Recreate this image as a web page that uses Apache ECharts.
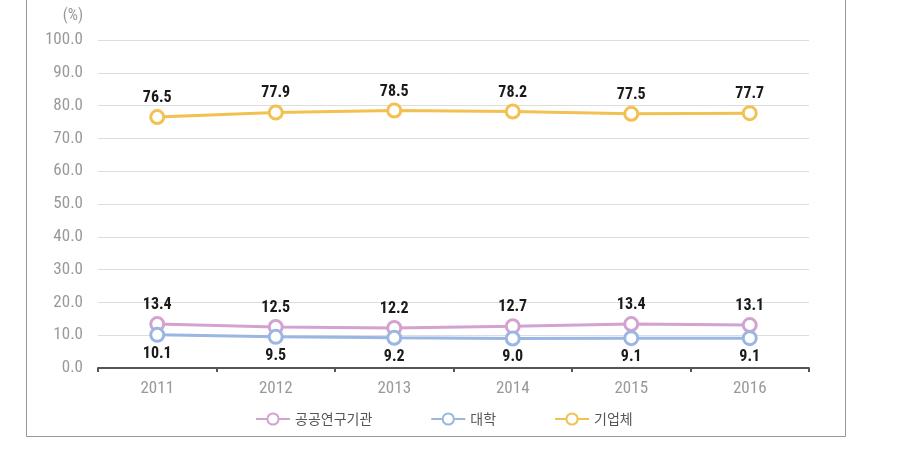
<!DOCTYPE html>
<html><head><meta charset="utf-8">
<script src="https://cdn.jsdelivr.net/npm/echarts@6/dist/echarts.min.js"></script>
<style>html,body{margin:0;padding:0;background:#fff}#c{width:908px;height:449px}</style>
</head><body><div id="c"></div>
<script>
var years = ['2011','2012','2013','2014','2015','2016'];
var publicInst = [13.4, 12.5, 12.2, 12.7, 13.4, 13.1];
var university = [10.1, 9.5, 9.2, 9.0, 9.1, 9.1];
var company = [76.5, 77.9, 78.5, 78.2, 77.5, 77.7];
var names = ['공공연구기관', '대학', '기업체'];
var colors = ['#D3A2D1', '#9AB6E3', '#F3C052'];
var narrow = '"Liberation Sans Narrow", "Roboto Condensed", Roboto, sans-serif';

var chart = echarts.init(document.getElementById('c'));
function mk(name, data, color, pos) {
  return {
    name: name, type: 'line', data: data,
    symbol: 'circle', symbolSize: 13,
    lineStyle: { color: color, width: 3 },
    itemStyle: { color: '#fff', borderColor: color, borderWidth: 3 },
    label: { show: true, position: pos, distance: 3, color: '#1a1a1a', fontSize: 16, fontWeight: 'bold',
      fontFamily: narrow, formatter: function(p){ return p.value.toFixed(1); } },
    emphasis: { disabled: true }
  };
}
chart.setOption({
  animation: false,
  grid: { left: 98, right: 99, top: 40, bottom: 81 },
  graphic: [{ type: 'rect', shape: { x: 26.5, y: -1, width: 819, height: 437.5 },
    style: { fill: 'none', stroke: '#999', lineWidth: 1 }, z: -1 }],
  legend: {
    data: names, bottom: 18, left: 250, itemGap: 58, itemWidth: 34, itemHeight: 14,
    textStyle: { color: '#555', fontSize: 14, fontFamily: 'Noto Sans CJK KR' }
  },
  xAxis: {
    type: 'category', data: years, boundaryGap: true,
    axisLine: { lineStyle: { color: '#555', width: 2 } },
    axisTick: { show: true, length: 4, lineStyle: { color: '#555', width: 2 } },
    axisLabel: { color: '#999', fontSize: 17, fontFamily: narrow, margin: 12 }
  },
  yAxis: {
    type: 'value', min: 0, max: 100, interval: 10,
    name: '(%)', nameLocation: 'end', nameGap: 16,
    nameTextStyle: { color: '#999', fontSize: 16, fontFamily: narrow, align: 'right', padding: [0, 15, 0, 0] },
    axisLine: { show: false }, axisTick: { show: false },
    splitLine: { lineStyle: { color: '#ddd', width: 1 } },
    axisLabel: { color: '#999', fontSize: 17, fontFamily: narrow, margin: 15,
      formatter: function(v){ return v.toFixed(1); } }
  },
  series: [
    mk(names[0], publicInst, colors[0], 'top'),
    mk(names[1], university, colors[1], 'bottom'),
    mk(names[2], company, colors[2], 'top')
  ]
});
</script></body></html>
